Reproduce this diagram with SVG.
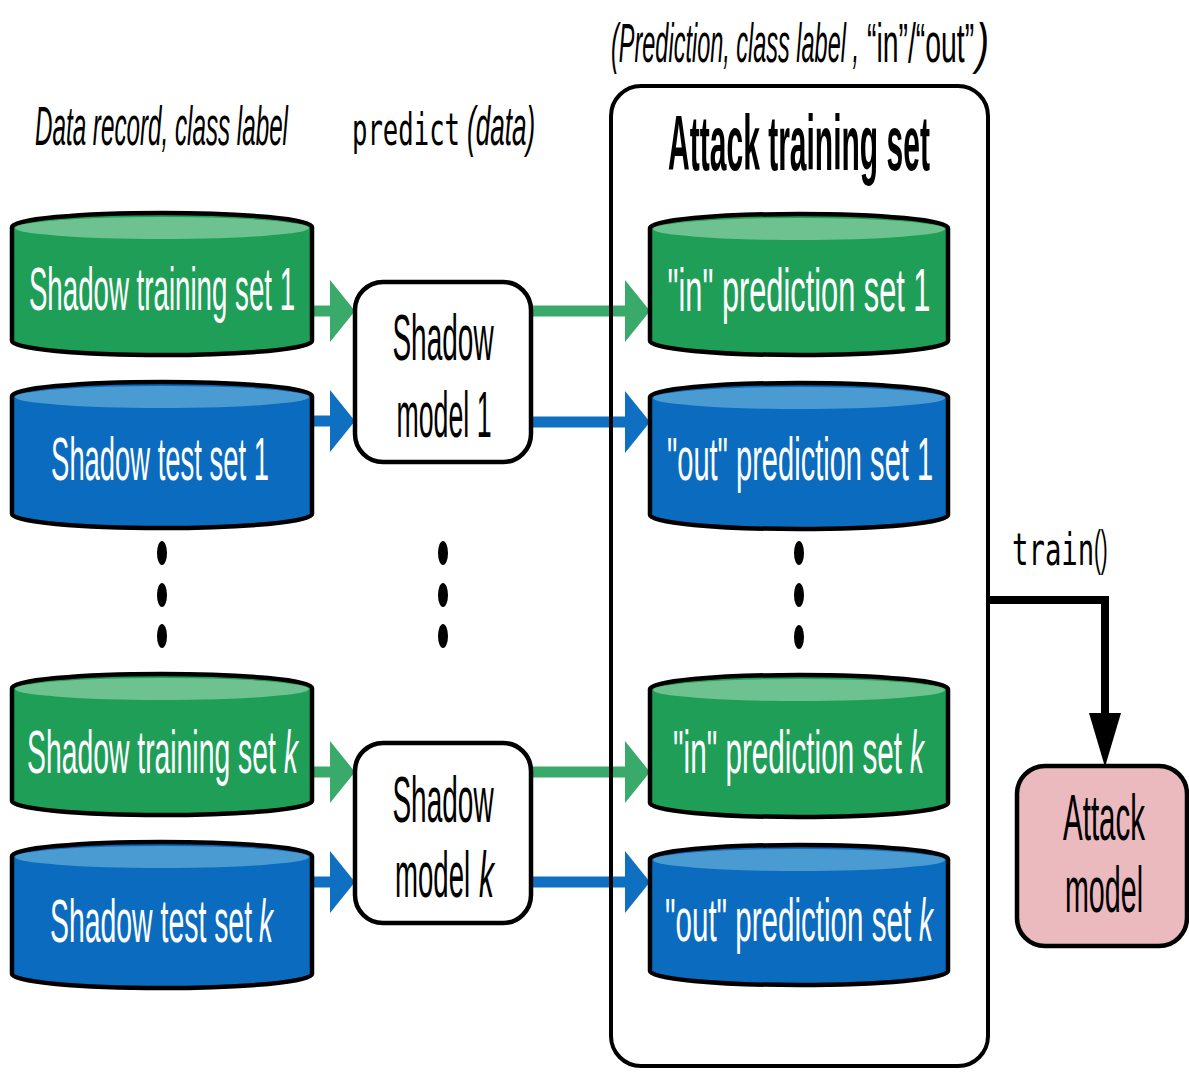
<svg xmlns="http://www.w3.org/2000/svg" width="1189" height="1072" viewBox="0 0 1189 1072">
  <style>
    .cond { font-family: "Liberation Sans Narrow", "Liberation Sans", Arial, sans-serif; }
    .mono { font-family: "DejaVu Sans Mono", "Liberation Mono", monospace; }
    .lbl { fill: #ffffff; font-size: 62px; }
    .blk { fill: #000000; }
    .it { font-style: italic; }
    .cap { font-size: 56px; font-style: italic; }
    .mid { text-anchor: middle; }
    .body-g { fill: #1f9e58; stroke: #000; stroke-width: 4.5; stroke-linejoin: round; }
    .top-g { fill: #6dc290; }
    .body-b { fill: #0b6cbf; stroke: #000; stroke-width: 4.5; stroke-linejoin: round; }
    .top-b { fill: #4b9bd3; }
    .model { fill: #ffffff; stroke: #000; stroke-width: 4.5; }
    .line-g { stroke: #3aaa6a; stroke-width: 11; fill: none; }
    .line-b { stroke: #0f70c2; stroke-width: 11; fill: none; }
    .dot { fill: #000; }
  </style>
  <defs>
    <marker id="headG" markerUnits="userSpaceOnUse" markerWidth="25" markerHeight="62" refX="1" refY="31" orient="auto" viewBox="0 0 25 62">
      <path d="M0,0 L25,31 L0,62 Z" fill="#3aaa6a"/>
    </marker>
    <marker id="headB" markerUnits="userSpaceOnUse" markerWidth="25" markerHeight="62" refX="1" refY="31" orient="auto" viewBox="0 0 25 62">
      <path d="M0,0 L25,31 L0,62 Z" fill="#0f70c2"/>
    </marker>
    <marker id="headK" markerUnits="userSpaceOnUse" markerWidth="54" markerHeight="32" refX="1" refY="16" orient="auto" viewBox="0 0 54 32">
      <path d="M0,0 L54,16 L0,32 Z" fill="#000"/>
    </marker>
  </defs>

  <!-- column headings (condensed lettering: narrow face squeezed horizontally) -->
  <g id="headings">
    <text class="cond cap blk" transform="translate(35,145) scale(0.55,1)" textLength="460" lengthAdjust="spacingAndGlyphs">Data record, class label</text>
    <text class="mono blk" transform="translate(352,145) scale(0.6,1)" font-size="44" textLength="180" lengthAdjust="spacingAndGlyphs">predict</text>
    <text class="cond cap blk" transform="translate(467,145) scale(0.55,1)" textLength="124" lengthAdjust="spacingAndGlyphs">(data)</text>
    <text class="cond cap blk" transform="translate(611,62) scale(0.4,1)" textLength="620" lengthAdjust="spacingAndGlyphs">(Prediction, class label ,</text>
    <text class="cond blk" transform="translate(867,62) scale(0.45,1)" font-size="56" textLength="238" lengthAdjust="spacingAndGlyphs">“in”/“out”</text>
    <text class="cond cap blk" transform="translate(976,62) scale(0.45,1)" textLength="29" lengthAdjust="spacingAndGlyphs">)</text>
  </g>

  <!-- connectors -->
  <g id="connectors">
    <line class="line-g" x1="312" y1="311" x2="331" y2="311" marker-end="url(#headG)"/>
    <line class="line-b" x1="312" y1="421" x2="331" y2="421" marker-end="url(#headB)"/>
    <line class="line-g" x1="530" y1="311" x2="626" y2="311" marker-end="url(#headG)"/>
    <line class="line-b" x1="530" y1="422" x2="626" y2="422" marker-end="url(#headB)"/>
    <line class="line-g" x1="312" y1="772" x2="331" y2="772" marker-end="url(#headG)"/>
    <line class="line-b" x1="312" y1="882" x2="331" y2="882" marker-end="url(#headB)"/>
    <line class="line-g" x1="530" y1="772" x2="626" y2="772" marker-end="url(#headG)"/>
    <line class="line-b" x1="530" y1="882" x2="626" y2="882" marker-end="url(#headB)"/>
    <path d="M988,600 H1105 V714" fill="none" stroke="#000" stroke-width="8" marker-end="url(#headK)"/>
    <text class="mono blk" transform="translate(1012,565) scale(0.6,1)" font-size="44" textLength="137" lengthAdjust="spacingAndGlyphs">train</text>
    <text class="cond blk" transform="translate(1094,565) scale(0.55,1)" font-size="50" textLength="25" lengthAdjust="spacingAndGlyphs">()</text>
  </g>

  <!-- attack training set container -->
  <g id="attack-training-set">
    <rect x="611" y="86" width="377" height="980" rx="30" fill="none" stroke="#000" stroke-width="4"/>
    <text class="cond blk mid" transform="translate(799,170) scale(0.55,1)" font-size="78" font-weight="bold" textLength="476" lengthAdjust="spacingAndGlyphs">Attack training set</text>
  </g>

  <!-- shadow datasets -->
  <g id="shadow-train-1">
    <path class="body-g" d="M12,227 A150,14 0 0 1 312,227 L312,341 A150,14 0 0 1 12,341 Z"/>
    <ellipse class="top-g" cx="162" cy="228" rx="147" ry="11"/>
    <text class="cond lbl mid" transform="translate(162,310) scale(0.55,1)" textLength="484" lengthAdjust="spacingAndGlyphs">Shadow training set 1</text>
  </g>
  <g id="shadow-test-1">
    <path class="body-b" d="M12,396 A150,14 0 0 1 312,396 L312,514 A150,14 0 0 1 12,514 Z"/>
    <ellipse class="top-b" cx="162" cy="397" rx="147" ry="11"/>
    <text class="cond lbl mid" transform="translate(160,480) scale(0.55,1)" textLength="396" lengthAdjust="spacingAndGlyphs">Shadow test set 1</text>
  </g>
  <g id="shadow-train-k">
    <path class="body-g" d="M12,688 A150,14 0 0 1 312,688 L312,801 A150,14 0 0 1 12,801 Z"/>
    <ellipse class="top-g" cx="162" cy="689" rx="147" ry="11"/>
    <text class="cond lbl" transform="translate(27,773) scale(0.45,1)" textLength="553" lengthAdjust="spacingAndGlyphs">Shadow training set</text>
    <text class="cond lbl it" transform="translate(284,773) scale(0.5,1)" textLength="28" lengthAdjust="spacingAndGlyphs">k</text>
  </g>
  <g id="shadow-test-k">
    <path class="body-b" d="M12,856 A150,14 0 0 1 312,856 L312,974 A150,14 0 0 1 12,974 Z"/>
    <ellipse class="top-b" cx="162" cy="857" rx="147" ry="11"/>
    <text class="cond lbl" transform="translate(50,942) scale(0.45,1)" textLength="449" lengthAdjust="spacingAndGlyphs">Shadow test set</text>
    <text class="cond lbl it" transform="translate(259,942) scale(0.5,1)" textLength="28" lengthAdjust="spacingAndGlyphs">k</text>
  </g>

  <!-- shadow models -->
  <g id="shadow-model-1">
    <rect class="model" x="355" y="282" width="176" height="180" rx="28"/>
    <text class="cond blk mid" transform="translate(443,360) scale(0.55,1)" font-size="64" textLength="184" lengthAdjust="spacingAndGlyphs">Shadow</text>
    <text class="cond blk mid" transform="translate(444,437) scale(0.55,1)" font-size="64" textLength="173" lengthAdjust="spacingAndGlyphs">model 1</text>
  </g>
  <g id="shadow-model-k">
    <rect class="model" x="355" y="743" width="176" height="180" rx="28"/>
    <text class="cond blk mid" transform="translate(443,822) scale(0.55,1)" font-size="64" textLength="184" lengthAdjust="spacingAndGlyphs">Shadow</text>
    <text class="cond blk" transform="translate(395,897) scale(0.45,1)" font-size="64" textLength="167" lengthAdjust="spacingAndGlyphs">model</text>
    <text class="cond blk it" transform="translate(479,897) scale(0.5,1)" font-size="64" textLength="30" lengthAdjust="spacingAndGlyphs">k</text>
  </g>

  <!-- prediction sets -->
  <g id="in-pred-1">
    <path class="body-g" d="M650,228 A149,14 0 0 1 948,228 L948,341 A149,14 0 0 1 650,341 Z"/>
    <ellipse class="top-g" cx="799" cy="229" rx="146" ry="11"/>
    <text class="cond lbl mid" transform="translate(799,311) scale(0.55,1)" textLength="478" lengthAdjust="spacingAndGlyphs">"in" prediction set 1</text>
  </g>
  <g id="out-pred-1">
    <path class="body-b" d="M650,397 A149,14 0 0 1 948,397 L948,515 A149,14 0 0 1 650,515 Z"/>
    <ellipse class="top-b" cx="799" cy="398" rx="146" ry="11"/>
    <text class="cond lbl mid" transform="translate(800,480) scale(0.55,1)" textLength="484" lengthAdjust="spacingAndGlyphs">"out" prediction set 1</text>
  </g>
  <g id="in-pred-k">
    <path class="body-g" d="M650,689 A149,14 0 0 1 948,689 L948,803 A149,14 0 0 1 650,803 Z"/>
    <ellipse class="top-g" cx="799" cy="690" rx="146" ry="11"/>
    <text class="cond lbl" transform="translate(673,773) scale(0.45,1)" textLength="509" lengthAdjust="spacingAndGlyphs">"in" prediction set</text>
    <text class="cond lbl it" transform="translate(910,773) scale(0.5,1)" textLength="28" lengthAdjust="spacingAndGlyphs">k</text>
  </g>
  <g id="out-pred-k">
    <path class="body-b" d="M650,859 A149,14 0 0 1 948,859 L948,971 A149,14 0 0 1 650,971 Z"/>
    <ellipse class="top-b" cx="799" cy="860" rx="146" ry="11"/>
    <text class="cond lbl" transform="translate(665,941) scale(0.45,1)" textLength="547" lengthAdjust="spacingAndGlyphs">"out" prediction set</text>
    <text class="cond lbl it" transform="translate(919,941) scale(0.5,1)" textLength="28" lengthAdjust="spacingAndGlyphs">k</text>
  </g>

  <!-- attack model -->
  <g id="attack-model">
    <rect x="1017" y="766" width="170" height="180" rx="28" fill="#ebbabe" stroke="#000" stroke-width="4.5"/>
    <text class="cond blk mid" transform="translate(1104,840) scale(0.55,1)" font-size="64" textLength="149" lengthAdjust="spacingAndGlyphs">Attack</text>
    <text class="cond blk mid" transform="translate(1104,912) scale(0.55,1)" font-size="64" textLength="142" lengthAdjust="spacingAndGlyphs">model</text>
  </g>

  <!-- ellipsis dots between first and k-th rows -->
  <g id="ellipsis">
    <ellipse class="dot" cx="162" cy="553" rx="5" ry="12"/>
    <ellipse class="dot" cx="162" cy="595" rx="5" ry="12"/>
    <ellipse class="dot" cx="162" cy="636" rx="5" ry="12"/>
    <ellipse class="dot" cx="443" cy="553" rx="5" ry="12"/>
    <ellipse class="dot" cx="443" cy="595" rx="5" ry="12"/>
    <ellipse class="dot" cx="443" cy="636" rx="5" ry="12"/>
    <ellipse class="dot" cx="799" cy="553" rx="5" ry="12"/>
    <ellipse class="dot" cx="799" cy="595" rx="5" ry="12"/>
    <ellipse class="dot" cx="799" cy="637" rx="5" ry="12"/>
  </g>
</svg>
